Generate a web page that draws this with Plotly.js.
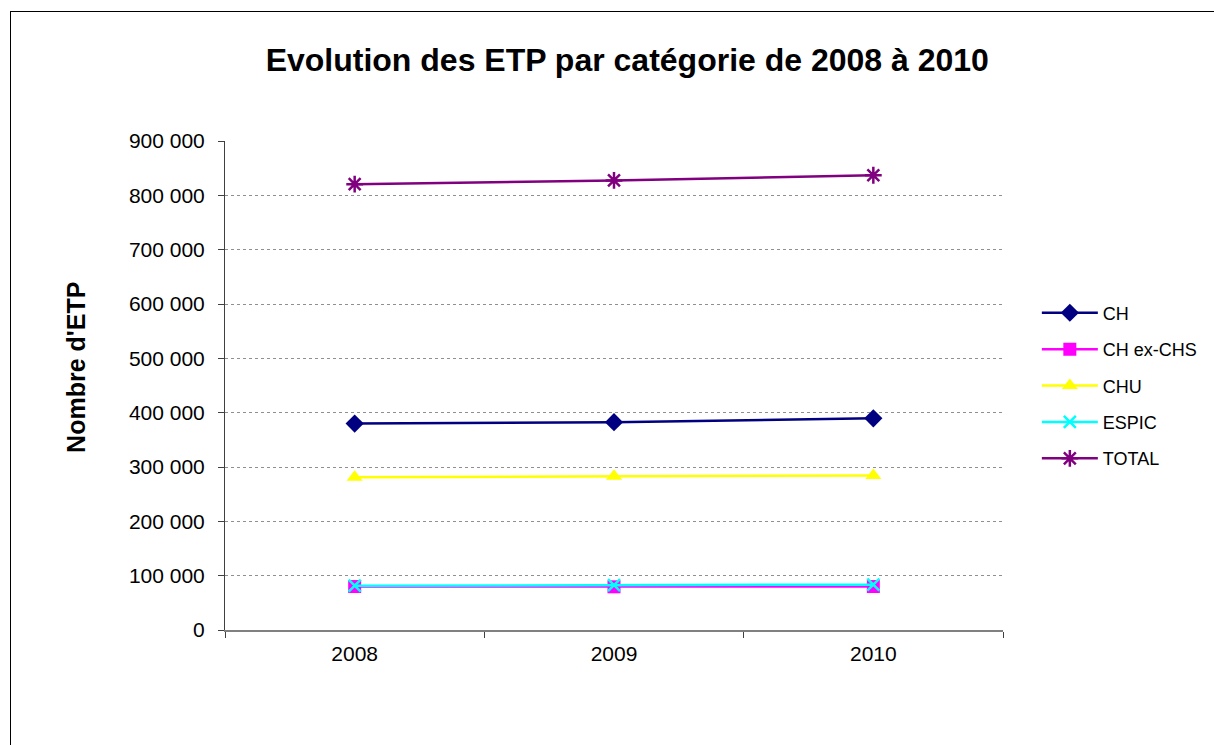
<!DOCTYPE html>
<html>
<head>
<meta charset="utf-8">
<script src="https://cdn.plot.ly/plotly-3.0.1.min.js"></script>
<style>
  html, body { margin: 0; padding: 0; background: #ffffff; }
  #wrap { position: relative; width: 1214px; height: 745px; overflow: hidden; }
  #chart { width: 1214px; height: 745px; }
  #frame { position: absolute; left: 10px; top: 11px; width: 1300px; height: 900px;
           border-left: 1px solid #000; border-top: 1px solid #000; pointer-events: none; }
</style>
</head>
<body>
<div id="wrap">
  <div id="chart"></div>
  <div id="frame"></div>
</div>
<script>
const years = ["2008", "2009", "2010"];
const seriesNames = ["CH", "CH ex-CHS", "CHU", "ESPIC", "TOTAL"];
const CH = [380000, 382500, 389500];
const CH_exCHS = [80000, 79500, 80000];
const CHU = [281000, 283000, 284500];
const ESPIC = [81500, 82500, 83500];
const TOTAL = [820500, 827500, 837000];
const yTickVals = [0, 100000, 200000, 300000, 400000, 500000, 600000, 700000, 800000, 900000];
const yTickText = ["0", "100 000", "200 000", "300 000", "400 000", "500 000", "600 000", "700 000", "800 000", "900 000"];
const yTitle = "Nombre d'ETP";

const FONT = "Liberation Sans, Arial, sans-serif";
const values = [CH, CH_exCHS, CHU, ESPIC, TOTAL];
const colors = ["#000080", "#FF00FF", "#FFFF00", "#00FFFF", "#800080"];
const symbols = ["diamond", "square", "triangle-up", "x-thin-open", "asterisk-open"];
const sizes = [14, 13, 14, 12, 14];

const traces = seriesNames.map((n, i) => ({
  x: years,
  y: values[i],
  name: n,
  type: "scatter",
  mode: "lines+markers",
  legendgroup: n,
  line: { color: colors[i], width: 2.5 },
  marker: { symbol: symbols[i], size: sizes[i], color: colors[i],
            line: { color: colors[i], width: (i >= 3 ? 2.5 : 0) } }
}));

const layout = {
  width: 1214, height: 745,
  margin: { l: 225, r: 211, t: 141, b: 115, autoexpand: false },
  paper_bgcolor: "#ffffff",
  plot_bgcolor: "#ffffff",
  font: { family: FONT, color: "#000000", size: 18 },
  title: { text: "<b>Evolution des ETP par catégorie de 2008 à 2010</b>",
           font: { family: FONT, size: 32, color: "#000" },
           x: 0.5167, xanchor: "center", y: 0.92, yanchor: "middle" },
  showlegend: true,
  legend: { x: 1.0435, xanchor: "left", y: 0.686, yanchor: "top",
            font: { family: FONT, size: 18, color: "#000" },
            traceorder: "grouped", tracegroupgap: 10, itemwidth: 56,
            bgcolor: "rgba(0,0,0,0)" },
  annotations: [{
    text: "<b>" + yTitle + "</b>", textangle: -90,
    xref: "paper", yref: "paper", x: -0.1915, y: 0.536,
    xanchor: "center", yanchor: "middle", showarrow: false,
    font: { family: FONT, size: 25, color: "#000" }
  }],
  xaxis: {
    type: "category",
    range: [-0.5, 2.5],
    tickson: "boundaries",
    ticks: "outside", ticklen: 6, tickcolor: "#404040", tickwidth: 1,
    showline: true, linecolor: "#808080", linewidth: 2,
    showgrid: false, zeroline: false,
    ticklabelstandoff: 4,
    tickfont: { family: FONT, size: 21, color: "#000" },
    fixedrange: true
  },
  yaxis: {
    range: [0, 900000],
    tickvals: yTickVals, ticktext: yTickText,
    ticks: "outside", ticklen: 6, tickcolor: "#404040", tickwidth: 1,
    showline: true, linecolor: "#404040", linewidth: 1,
    showgrid: true, gridcolor: "#909090", griddash: "dot", gridwidth: 1,
    zeroline: false,
    ticklabelstandoff: 9,
    tickfont: { family: FONT, size: 21, color: "#000" },
    fixedrange: true
  }
};

Plotly.newPlot("chart", traces, layout, { displayModeBar: false, staticPlot: true });
</script>
</body>
</html>
